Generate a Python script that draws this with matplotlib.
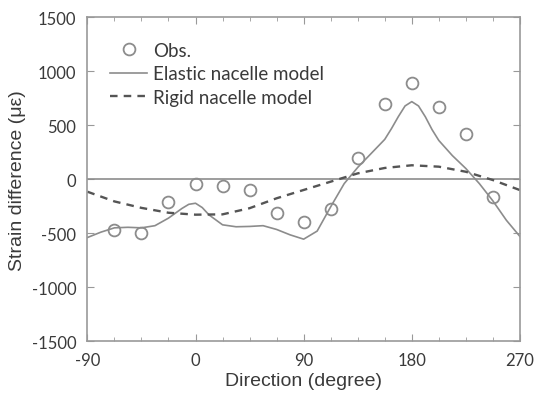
import matplotlib
matplotlib.use("Agg")
import matplotlib.pyplot as plt
from matplotlib.ticker import MultipleLocator

plt.rcParams['axes.unicode_minus'] = False

# observed strain differences
obs_dir = [-67.5, -45, -22.5, 0, 22.5, 45, 67.5, 90, 112.5, 135, 157.5, 180, 202.5, 225, 247.5]
obs_val = [-470, -500, -207, -40, -65, -95, -315, -400, -275, 195, 700, 890, 670, 422, -167]

# elastic nacelle model
el_dir = [-90, -78.75, -67.5, -56.25, -45, -33.75, -22.5, -11.25, -5.6, 0, 5.6, 11.25, 22.5, 33.75,
          45, 56.25, 67.5, 78.75, 90, 101.25, 112.5, 123.75, 135, 146.25, 157.5, 163.1, 168.75,
          174.4, 180, 185.6, 191.25, 196.9, 202.5, 213.75, 225, 236.25, 247.5, 258.75, 270]
el_val = [-540, -490, -450, -445, -450, -430, -360, -270, -232, -222, -262, -330, -422, -440,
          -437, -430, -465, -515, -555, -480, -255, -40, 110, 240, 370, 470, 580,
          680, 720, 680, 580, 460, 360, 220, 100, -40, -200, -380, -530]

# rigid nacelle model
rg_dir = [-90, -67.5, -45, -22.5, 0, 22.5, 45, 67.5, 90, 112.5, 135, 157.5, 180, 202.5, 225, 247.5, 270]
rg_val = [-115, -205, -265, -310, -328, -325, -268, -176, -99, -22, 55, 105, 130, 117, 70, -7, -100]

txt = '#3a3a3a'
grey = '#8c8c8c'

fig = plt.figure(figsize=(5.36, 4.02), dpi=100)
ax = fig.add_axes([0.163, 0.149, 0.807, 0.805])

ax.axhline(0, color=grey, lw=1.2)
ax.plot(obs_dir, obs_val, 'o', ls='none', mfc='none', mec=grey, mew=1.3, ms=8.5, label='Obs.')
ax.plot(el_dir, el_val, '-', color=grey, lw=1.2, label='Elastic nacelle model')
ax.plot(rg_dir, rg_val, color='#555555', lw=1.7, dashes=(3.2, 2.6), label='Rigid nacelle model')

ax.set_xlim(-90, 270)
ax.set_ylim(-1500, 1500)
ax.xaxis.set_major_locator(MultipleLocator(90))
ax.xaxis.set_minor_locator(MultipleLocator(22.5))
ax.yaxis.set_major_locator(MultipleLocator(500))

for s in ax.spines.values():
    s.set_color('#999999')
    s.set_linewidth(1.2)
ax.tick_params(which='both', direction='in', top=True, right=True, color='#999999',
               labelcolor=txt, labelsize=12, labelfontfamily='Lato')
ax.tick_params(which='major', length=5, pad=8)
ax.tick_params(which='minor', length=3)

ax.set_xlabel('Direction (degree)', fontsize=14, color=txt, family='Liberation Sans', labelpad=3)
ax.set_ylabel('Strain difference (\u03bc\u03b5)', fontsize=14, color=txt, family='Liberation Sans', labelpad=4)

leg = ax.legend(loc='upper left', bbox_to_anchor=(0.052, 0.925), frameon=False,
                prop={'family': 'Lato', 'size': 13.5}, handlelength=2.0, handletextpad=0.3,
                labelspacing=0.34, borderpad=0, borderaxespad=0)
for t in leg.get_texts():
    t.set_color(txt)

fig.savefig('out.png', dpi=100)
